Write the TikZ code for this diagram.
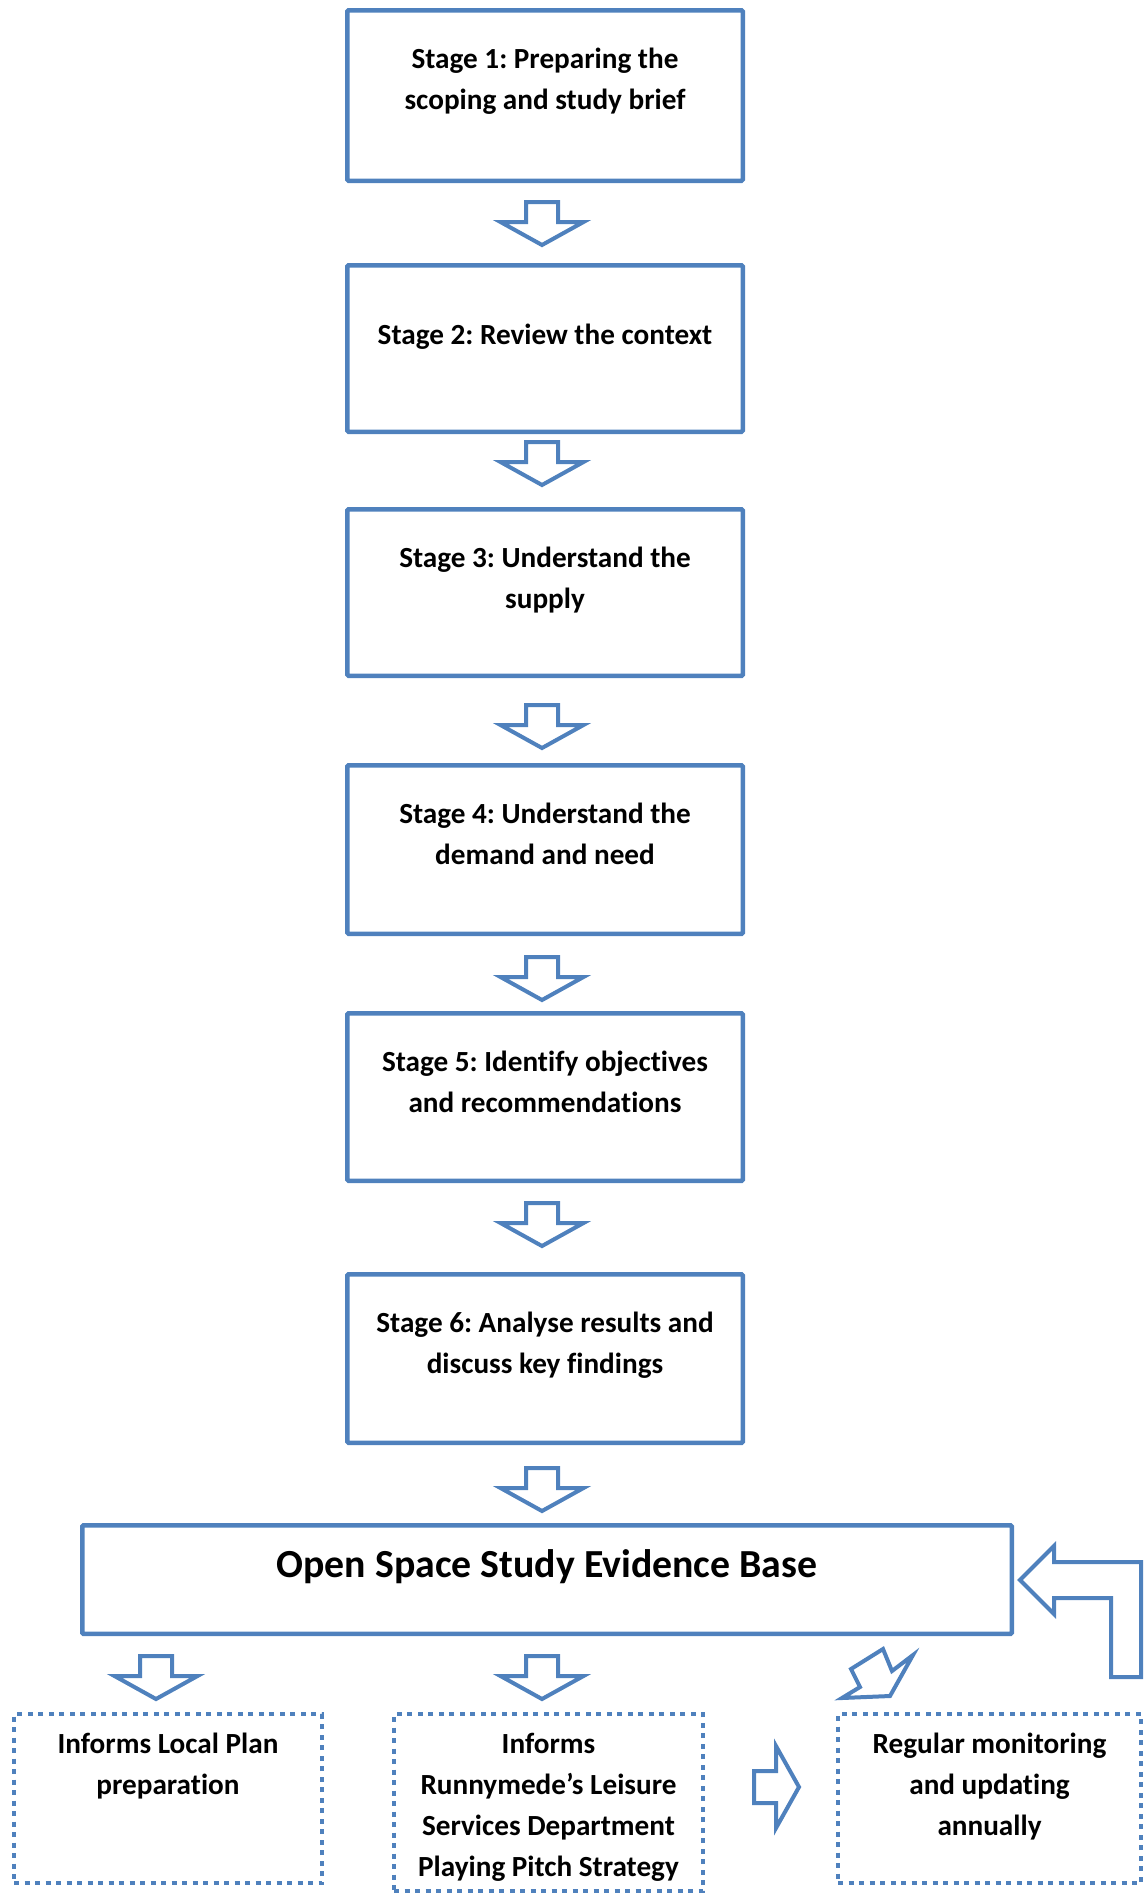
\documentclass[tikz,border=0pt]{standalone}
\usepackage{fontspec}
\setmainfont{Carlito}[Ligatures={NoCommon}]
\frenchspacing
\definecolor{obl}{HTML}{4F81BD}
\newcommand\lstr{\rule[-6.15pt]{0pt}{20.5pt}}
\tikzset{
  arrowline/.style={draw=obl,line width=2pt,line join=miter,fill=white},
  pics/blockdown/.style={code={
    \draw[arrowline] (-16,2) -- (16,2) -- (16,22) -- (41.5,22) -- (0,45) -- (-41.5,22) -- (-16,22) -- cycle;}},
  pics/blockright/.style={code={
    \draw[arrowline] (2,-16) -- (24,-16) -- (24,-41) -- (47,0) -- (24,41) -- (24,16) -- (2,16) -- cycle;}},
  stagebox/.style={draw=obl,line width=2.25pt,minimum width=197.75pt,inner sep=0pt,rounded corners=0.6pt},
  mainbox/.style={draw=obl,line width=2.25pt,minimum width=464.75pt,minimum height=54.25pt,inner sep=0pt,rounded corners=0.6pt},
  dotbox/.style={draw=obl,line width=2.2pt,dash pattern=on 2.5pt off 2.75pt,inner sep=0pt},
  boxtext/.style={font=\fontsize{14.6pt}{20.5pt}\selectfont\bfseries,align=center,inner sep=0pt},
  maintext/.style={font=\fontsize{19.9pt}{24pt}\selectfont\bfseries,inner sep=0pt},
}
\begin{document}
\begin{tikzpicture}[x=0.5pt,y=-0.5pt]
\useasboundingbox (0,0) rectangle (1145,1895);
% stage boxes
\node[stagebox,minimum height=85.25pt] (s1) at (545,95.5) {};
\node[stagebox,minimum height=83.25pt] (s2) at (545,348.5) {};
\node[stagebox,minimum height=83.25pt] (s3) at (545,592.5) {};
\node[stagebox,minimum height=84.25pt] (s4) at (545,849.5) {};
\node[stagebox,minimum height=83.75pt] (s5) at (545,1097) {};
\node[stagebox,minimum height=84.25pt] (s6) at (545,1358.5) {};
\node[boxtext] (t1) at (545,81) {\lstr Stage 1: Preparing the\\\lstr scoping and study brief};
\node[boxtext] (t2) at (545,336) {\lstr Stage 2: Review the context};
\node[boxtext] (t3) at (545,580) {\lstr Stage 3: Understand the\\\lstr supply};
\node[boxtext] (t4) at (545,836) {\lstr Stage 4: Understand the\\\lstr demand and need};
\node[boxtext] (t5) at (545,1084) {\lstr Stage 5: Identify objectives\\\lstr and recommendations};
\node[boxtext] (t6) at (545,1345) {\lstr Stage 6: Analyse results and\\\lstr discuss key findings};
% main box
\node[mainbox] (base) at (547,1579.5) {};
\node[maintext,anchor=base] (basetext) at (547,1577) {Open Space Study Evidence Base};
% dotted boxes
\node[dotbox,minimum width=154pt,minimum height=84.5pt] (d1) at (168,1798.5) {};
\node[dotbox,minimum width=154.5pt,minimum height=88.5pt] (d2) at (548.5,1802.5) {};
\node[dotbox,minimum width=151.5pt,minimum height=84.5pt] (d3) at (989.5,1798.5) {};
\node[boxtext,anchor=north] (dt1) at (168,1724) {\lstr Informs Local Plan\\\lstr preparation};
\node[boxtext,anchor=north] (dt2) at (548.5,1724) {\lstr Informs\\\lstr Runnymede’s Leisure\\\lstr Services Department\\\lstr Playing Pitch Strategy};
\node[boxtext,anchor=north] (dt3) at (989.5,1724) {\lstr Regular monitoring\\\lstr and updating\\\lstr annually};
% block arrows between stages
\pic at (542,200) {blockdown};
\pic at (542,440) {blockdown};
\pic at (542,703) {blockdown};
\pic at (542,955) {blockdown};
\pic at (542,1201) {blockdown};
\pic at (542,1466) {blockdown};
% arrows below main box
\pic at (156,1654) {blockdown};
\pic at (542,1654) {blockdown};
\pic at (752,1787) {blockright};
% skewed arrow toward monitoring box
\draw[arrowline] (883,1649) -- (892,1671) -- (913,1655) -- (890,1696) -- (842,1698) -- (860,1687) -- (851,1669) -- cycle;
% bent feedback arrow into main box
\draw[arrowline] (1020,1580) -- (1054,1546) -- (1054,1562) -- (1141,1562) -- (1141,1677) -- (1111,1677) -- (1111,1598) -- (1054,1598) -- (1054,1614) -- cycle;
\end{tikzpicture}
\end{document}
